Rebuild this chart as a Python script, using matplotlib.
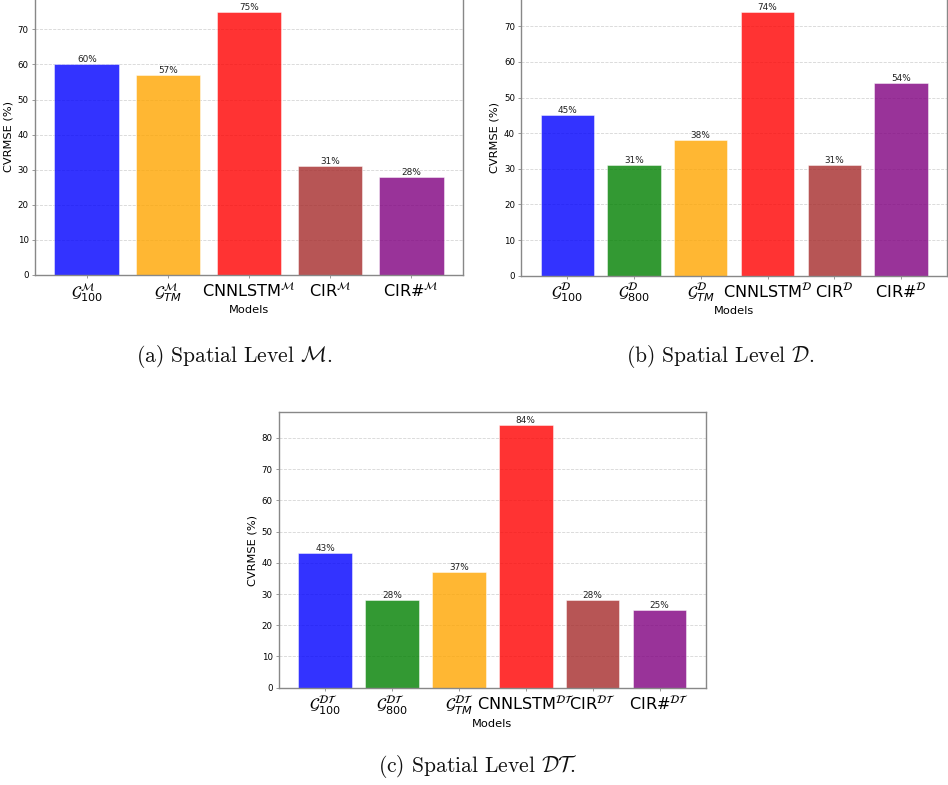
import matplotlib
matplotlib.use("Agg")
import matplotlib.pyplot as plt

# ---- data ----
labels_m = [r'$\mathcal{G}^{\mathcal{M}}_{100}$', r'$\mathcal{G}^{\mathcal{M}}_{TM}$',
            r'CNNLSTM$^{\mathcal{M}}$', r'CIR$^{\mathcal{M}}$', r'CIR#$^{\mathcal{M}}$']
values_m = [60, 57, 75, 31, 28]
colors_m = ['blue', 'orange', 'red', 'brown', 'purple']

labels_d = [r'$\mathcal{G}^{\mathcal{D}}_{100}$', r'$\mathcal{G}^{\mathcal{D}}_{800}$',
            r'$\mathcal{G}^{\mathcal{D}}_{TM}$', r'CNNLSTM$^{\mathcal{D}}$',
            r'CIR$^{\mathcal{D}}$', r'CIR#$^{\mathcal{D}}$']
values_d = [45, 31, 38, 74, 31, 54]
colors_d = ['blue', 'green', 'orange', 'red', 'brown', 'purple']

labels_dt = [r'$\mathcal{G}^{\mathcal{DT}}_{100}$', r'$\mathcal{G}^{\mathcal{DT}}_{800}$',
             r'$\mathcal{G}^{\mathcal{DT}}_{TM}$', r'CNNLSTM$^{\mathcal{DT}}$',
             r'CIR$^{\mathcal{DT}}$', r'CIR#$^{\mathcal{DT}}$']
values_dt = [43, 28, 37, 84, 28, 25]
colors_dt = ['blue', 'green', 'orange', 'red', 'brown', 'purple']

captions = [r'(a) Spatial Level $\mathcal{M}$.',
            r'(b) Spatial Level $\mathcal{D}$.',
            r'(c) Spatial Level $\mathcal{DT}$.']

W, H = 948, 785
fig = plt.figure(figsize=(W / 100, H / 100), dpi=100)


def px_axes(left, top, right, bottom):
    return fig.add_axes([left / W, 1 - bottom / H, (right - left) / W, (bottom - top) / H])


def draw(ax, labels, values, colors):
    x = list(range(len(values)))
    bars = ax.bar(x, values, width=0.8, color=colors, alpha=0.8, edgecolor='white', linewidth=0.4)
    ax.set_ylim(0, max(values) * 1.05)
    for b, v in zip(bars, values):
        ax.text(b.get_x() + b.get_width() / 2, v, f'{v}%', ha='center', va='bottom',
                fontsize=6.4, color='#222222')
    ax.set_xticks(x)
    ax.set_xticklabels(labels, fontsize=11.6)
    ax.tick_params(axis='y', labelsize=6.2, length=2.5, width=0.6, color='#888888', pad=2)
    ax.tick_params(axis='x', length=2.5, width=0.6, color='#888888', pad=2)
    ax.set_ylabel('CVRMSE (%)', fontsize=8.2, labelpad=3)
    ax.set_xlabel('Models', fontsize=8.2, labelpad=1)
    ax.grid(axis='y', linestyle='--', color='#cccccc', linewidth=0.6, alpha=0.8)
    ax.set_axisbelow(True)
    for s in ax.spines.values():
        s.set_color('#888888')
        s.set_linewidth(1.0)


ax1 = px_axes(35, -1.4, 463, 275)
draw(ax1, labels_m, values_m, colors_m)
ax2 = px_axes(521.3, -1.2, 947, 275.7)
draw(ax2, labels_d, values_d, colors_d)
ax3 = px_axes(279, 412.3, 705.7, 687.7)
draw(ax3, labels_dt, values_dt, colors_dt)

cap_pos = [(234, 356), (720, 356), (477.5, 766)]
for (cx, cy), cap in zip(cap_pos, captions):
    fig.text(cx / W, 1 - cy / H, cap, ha='center', va='center', fontsize=15.5,
             family='cmr10', math_fontfamily='cm', color='#111111')

fig.savefig('out.png', dpi=100)
